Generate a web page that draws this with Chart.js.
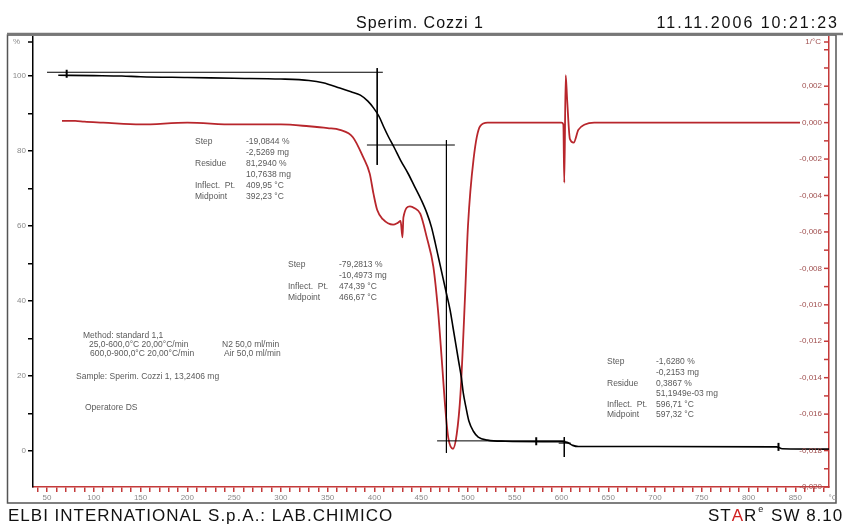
<!DOCTYPE html>
<html>
<head>
<meta charset="utf-8">
<script src="https://cdn.jsdelivr.net/npm/chart.js@4.4.1/dist/chart.umd.min.js"></script>
<style>
  html, body { margin: 0; padding: 0; background: #fff; }
  canvas { display: block; }
</style>
</head>
<body>
<canvas id="tga" width="843" height="525"></canvas>
<script>
// TGA curve (left axis, %)
const tgaTemp = [62, 100, 130, 150, 200, 250, 300, 330, 345, 363, 375, 385, 393, 399, 405, 410, 415, 421, 428, 436, 443, 450, 456, 461, 465, 469, 473, 477, 481, 484, 487, 490, 493, 495, 498, 501, 506, 511, 521, 540, 580, 600, 606, 612, 618, 700, 830, 836, 886];
const tgaMass = [100.2, 100.1, 100.0, 99.8, 99.6, 99.4, 99.2, 98.8, 98.2, 96.8, 95.8, 94.9, 93.3, 91.5, 89.2, 86.4, 83.8, 81.0, 77.5, 74.0, 70.5, 67.0, 63.5, 59.7, 55.5, 51.0, 46.5, 42.0, 37.5, 33.0, 28.5, 24.0, 19.5, 15.5, 11.5, 8.0, 5.2, 3.7, 2.9, 2.6, 2.5, 2.5, 2.3, 1.5, 1.2, 1.2, 1.1, 0.6, 0.5];

// DTG curve (right axis, 1/°C)
const dtgTemp = [66, 80, 90, 110, 150, 200, 250, 300, 330, 350, 363, 377, 388, 395, 399, 403, 409, 420, 425, 428, 430, 431, 438, 443, 449, 456, 463, 468, 472, 476, 479, 484, 488, 492, 497, 500, 506, 513, 521, 560, 600, 602, 603, 604.5, 606, 609, 613, 618, 625, 635, 700, 760, 800, 855];
const dtgRate = [0.0001, 0.0001, 0.00005, 0, -0.0001, 0, -0.0001, -0.0001, -0.0002, -0.0003, -0.0004, -0.0008, -0.0019, -0.0028, -0.0039, -0.0048, -0.0053, -0.0056, -0.0055, -0.0054, -0.0063, -0.0052, -0.0046, -0.0047, -0.0050, -0.0063, -0.0079, -0.0103, -0.0130, -0.0158, -0.0173, -0.0179, -0.0171, -0.0149, -0.0094, -0.0057, -0.0020, -0.0002, 0, 0, 0, -0.0001, -0.0033, 0.0026, 0.0013, -0.0009, -0.0011, -0.0004, -0.0001, 0, 0, 0, 0, 0];

// step evaluation construction lines (null separates segments)
const tangentTemp = [50, 409, null, 403, 403, null, 392, 486, null, 477, 477, null, 467, 604, null, 603, 603, null, 597, 610];
const tangentMass = [101.0, 101.0, null, 102.1, 76.3, null, 81.6, 81.6, null, 82.9, -0.5, null, 2.7, 2.7, null, 3.7, -1.6, null, 2.1, 2.1];

// small marks on the TGA curve
const markTemp = [71, 573, 832];
const markMass = [100.6, 2.6, 1.1];

// axis ranges
const tempMin = 35, tempMax = 886;
const massMin = -9.6, massMax = 110.4;
const rateMin = -0.0200, rateMax = 0.0047;

const titleText = 'Sperim. Cozzi 1';
const dateText = '11.11.2006 10:21:23';
const footerLeft = 'ELBI INTERNATIONAL S.p.A.: LAB.CHIMICO';

const stepBlocks = [
  { x: 195, y: 142, labels: ['Step', '', 'Residue', '', 'Inflect.  Pt.', 'Midpoint'],
    values: ['-19,0844 %', '-2,5269 mg', '81,2940 %', '10,7638 mg', '409,95 °C', '392,23 °C'], vx: 246, gap: 11 },
  { x: 288, y: 265, labels: ['Step', '', 'Inflect.  Pt.', 'Midpoint'],
    values: ['-79,2813 %', '-10,4973 mg', '474,39 °C', '466,67 °C'], vx: 339, gap: 11 },
  { x: 607, y: 362, labels: ['Step', '', 'Residue', '', 'Inflect.  Pt.', 'Midpoint'],
    values: ['-1,6280 %', '-0,2153 mg', '0,3867 %', '51,1949e-03 mg', '596,71 °C', '597,32 °C'], vx: 656, gap: 10.6 }
];

const methodLines = [
  { x: 83, y: 336, t: 'Method: standard 1,1' },
  { x: 89, y: 345, t: '25,0-600,0°C 20,00°C/min' },
  { x: 222, y: 345, t: 'N2 50,0 ml/min' },
  { x: 90, y: 354, t: '600,0-900,0°C 20,00°C/min' },
  { x: 224, y: 354, t: 'Air 50,0 ml/min' },
  { x: 76, y: 377, t: 'Sample: Sperim. Cozzi 1, 13,2406 mg' },
  { x: 85, y: 408, t: 'Operatore DS' }
];

const RED = '#b8262c';
const AXIS_RED = '#c43a3a';
const FONT = "'Liberation Sans', Arial, sans-serif";

Chart.defaults.font.family = FONT;

function pairs(xs, ys) {
  return xs.map((x, i) => ({ x: x, y: ys[i] }));
}

// ticks on every multiple of step inside [lo, hi]
function stepTicks(step, lo, hi) {
  return (scale) => {
    const from = lo !== undefined ? lo : scale.min;
    const to = hi !== undefined ? hi : scale.max;
    const out = [];
    const first = Math.ceil(from / step - 1e-9);
    const last = Math.floor(to / step + 1e-9);
    for (let k = first; k <= last; k++) out.push({ value: +(k * step).toFixed(6) });
    scale.ticks = out;
  };
}

const decor = {
  id: 'decor',
  beforeDraw(chart) {
    const ctx = chart.ctx;
    ctx.save();
    ctx.fillStyle = '#fff';
    ctx.fillRect(0, 0, chart.width, chart.height);
    ctx.restore();
  },
  afterDraw(chart) {
    const ctx = chart.ctx;
    const a = chart.chartArea;
    const y2 = chart.scales.y2;
    ctx.save();

    // frame
    ctx.strokeStyle = '#555';
    ctx.lineWidth = 1.5;
    ctx.strokeRect(7.5, 35, 828.5, 468);
    ctx.strokeStyle = '#777';
    ctx.lineWidth = 2.5;
    ctx.beginPath();
    ctx.moveTo(7, 34);
    ctx.lineTo(843, 34);
    ctx.stroke();

    // right axis: inward ticks and labels
    ctx.strokeStyle = AXIS_RED;
    ctx.lineWidth = 1.5;
    ctx.font = '8px ' + FONT;
    ctx.textBaseline = 'middle';
    ctx.textAlign = 'right';
    ctx.fillStyle = '#a05050';
    y2.ticks.forEach(t => {
      const py = y2.getPixelForValue(t.value);
      ctx.beginPath();
      ctx.moveTo(a.right - 5, py);
      ctx.lineTo(a.right, py);
      ctx.stroke();
      const k = Math.round(t.value * 1000);
      if (k % 2 === 0 && k <= 2) ctx.fillText(t.value.toFixed(3).replace('.', ','), a.right - 7, py);
    });
    const unitY = a.top + 5;
    ctx.beginPath();
    ctx.moveTo(a.right - 5, unitY);
    ctx.lineTo(a.right, unitY);
    ctx.stroke();
    ctx.fillText('1/°C', a.right - 8, unitY);
    ctx.strokeStyle = '#000';
    ctx.beginPath();
    ctx.moveTo(a.left - 5, unitY);
    ctx.lineTo(a.left, unitY);
    ctx.stroke();

    // unit labels
    ctx.fillStyle = '#8a8a8a';
    ctx.fillText('%', a.left - 13, unitY);
    ctx.textAlign = 'center';
    ctx.fillText('°C', 833, 498);

    // title row
    ctx.fillStyle = '#111';
    ctx.font = '16px ' + FONT;
    ctx.textBaseline = 'alphabetic';
    ctx.letterSpacing = '1px';
    ctx.textAlign = 'center';
    ctx.fillText(titleText, 420, 28);
    ctx.letterSpacing = '2px';
    ctx.textAlign = 'right';
    ctx.fillText(dateText, 839, 28);

    // footer
    ctx.letterSpacing = '1px';
    ctx.font = '17px ' + FONT;
    ctx.textAlign = 'left';
    ctx.fillText(footerLeft, 8, 521);
    let fx = 708;
    const parts = [['ST', '#111'], ['A', '#d02020'], ['R', '#111']];
    parts.forEach(p => {
      ctx.fillStyle = p[1];
      ctx.fillText(p[0], fx, 521);
      fx += ctx.measureText(p[0]).width;
    });
    ctx.font = '9px ' + FONT;
    ctx.fillStyle = '#111';
    ctx.fillText('e', fx + 1, 512);
    fx += 8;
    ctx.font = '17px ' + FONT;
    ctx.fillText(' SW 8.10', fx, 521);
    ctx.letterSpacing = '0px';

    // evaluation texts
    ctx.font = '8.5px ' + FONT;
    ctx.fillStyle = '#5a5a5a';
    ctx.textBaseline = 'middle';
    ctx.textAlign = 'left';
    stepBlocks.forEach(b => {
      b.labels.forEach((l, i) => {
        const ty = b.y + i * b.gap;
        if (l) ctx.fillText(l, b.x, ty);
        ctx.fillText(b.values[i], b.vx, ty);
      });
    });
    methodLines.forEach(m => ctx.fillText(m.t, m.x, m.y));

    ctx.restore();
  }
};

new Chart(document.getElementById('tga'), {
  type: 'line',
  data: {
    datasets: [
      {
        label: 'Tangents',
        data: pairs(tangentTemp, tangentMass),
        yAxisID: 'y',
        borderColor: '#000',
        borderWidth: 1,
        pointRadius: 0,
        tension: 0,
        spanGaps: false
      },
      {
        label: 'TGA',
        data: pairs(tgaTemp, tgaMass),
        yAxisID: 'y',
        borderColor: '#000',
        borderWidth: 1.6,
        pointRadius: 0,
        cubicInterpolationMode: 'monotone'
      },
      {
        label: 'DTG',
        data: pairs(dtgTemp, dtgRate),
        yAxisID: 'y2',
        borderColor: RED,
        borderWidth: 1.8,
        pointRadius: 0,
        cubicInterpolationMode: 'monotone'
      },
      {
        label: 'Marks',
        data: pairs(markTemp, markMass),
        yAxisID: 'y',
        showLine: false,
        pointStyle: 'line',
        rotation: 90,
        pointRadius: 4,
        borderColor: '#000',
        borderWidth: 2
      }
    ]
  },
  options: {
    responsive: false,
    animation: false,
    layout: { padding: { left: 7, right: 7, top: 37, bottom: 22 } },
    plugins: {
      legend: { display: false },
      tooltip: { enabled: false }
    },
    scales: {
      x: {
        type: 'linear',
        position: 'bottom',
        min: tempMin,
        max: tempMax,
        afterBuildTicks: stepTicks(10),
        afterFit: (s) => { s.height = 16; },
        ticks: {
          autoSkip: false,
          maxRotation: 0,
          padding: 1,
          color: '#8a8a8a',
          font: { size: 8 },
          callback: (v) => (Math.round(v) % 50 === 0 && v >= 50 && v <= 850) ? String(Math.round(v)) : ''
        },
        grid: { drawOnChartArea: false, tickLength: 5, color: AXIS_RED, lineWidth: 1.5 },
        border: { color: AXIS_RED, width: 1.5 }
      },
      y: {
        type: 'linear',
        position: 'left',
        min: massMin,
        max: massMax,
        afterBuildTicks: stepTicks(10, 0, 100),
        afterFit: (s) => { s.width = 26; },
        ticks: {
          autoSkip: false,
          padding: 2,
          color: '#8a8a8a',
          font: { size: 8 },
          callback: (v) => (Math.round(v) % 20 === 0) ? String(Math.round(v)) : ''
        },
        grid: { drawOnChartArea: false, tickLength: 5, color: '#000', lineWidth: 1.5 },
        border: { color: '#000', width: 1.5 }
      },
      y2: {
        type: 'linear',
        position: 'right',
        min: rateMin,
        max: rateMax,
        afterBuildTicks: stepTicks(0.001),
        afterFit: (s) => { s.width = 7; },
        ticks: { display: false },
        grid: { display: false },
        border: { color: AXIS_RED, width: 1.5 }
      }
    }
  },
  plugins: [decor]
});
</script>
</body>
</html>
